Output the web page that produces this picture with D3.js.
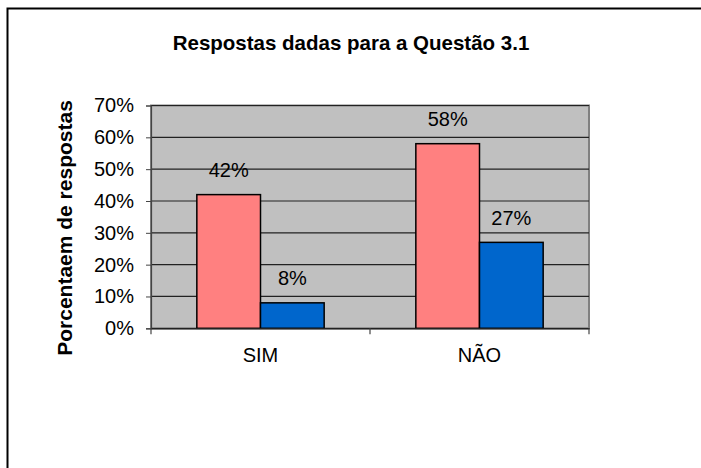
<!DOCTYPE html>
<html>
<head>
<meta charset="utf-8">
<script src="https://cdn.jsdelivr.net/npm/d3@7"></script>
<style>
  body { margin: 0; background: #fff; }
  svg { display: block; font-family: "Liberation Sans", Arial, sans-serif; }
</style>
</head>
<body>
<svg id="chart"></svg>
<script>
// chart data
const categories = ["SIM", "NÃO"];
const seriesNames = ["A", "B"];
const seriesA = [0.42, 0.58];
const seriesB = [0.08, 0.27];
const yTicks = [0, 0.1, 0.2, 0.3, 0.4, 0.5, 0.6, 0.7];

const width = 701, height = 468;
const margin = { top: 105.5, right: 112, bottom: 140, left: 151 };
const colors = ["#FF8080", "#0066CC"];
const fs = 20;

const svg = d3.select("#chart")
    .attr("width", width)
    .attr("height", height);

// outer chart border (right and bottom lie off the page)
svg.append("rect")
    .attr("x", 7.5).attr("y", 8.5)
    .attr("width", 720).attr("height", 500)
    .attr("fill", "#fff")
    .attr("stroke", "#000")
    .attr("stroke-width", 2);

const plotW = width - margin.left - margin.right;
const y0 = 328.3;

const x = d3.scaleBand()
    .domain(categories)
    .range([margin.left, margin.left + plotW])
    .padding(0);

const xs = d3.scaleBand()
    .domain(seriesNames)
    .range([0, x.bandwidth()])
    .paddingInner(0)
    .paddingOuter(0.72);

const y = d3.scaleLinear()
    .domain([0, 0.7])
    .range([y0, margin.top]);

// plot background
svg.append("rect")
    .attr("x", margin.left).attr("y", margin.top)
    .attr("width", plotW).attr("height", y0 - margin.top)
    .attr("fill", "#C0C0C0")
    .attr("stroke", "#808080")
    .attr("stroke-width", 2);

// gridlines
svg.append("g")
    .selectAll("line")
    .data(yTicks.slice(1))
    .join("line")
    .attr("x1", margin.left).attr("x2", margin.left + plotW)
    .attr("y1", d => y(d)).attr("y2", d => y(d))
    .attr("stroke", "#222")
    .attr("stroke-width", 1.2);

// bars
const data = categories.map((c, i) => ({ cat: c, values: [seriesA[i], seriesB[i]] }));

const groups = svg.append("g")
    .selectAll("g")
    .data(data)
    .join("g")
    .attr("transform", d => `translate(${x(d.cat)},0)`);

groups.selectAll("rect")
    .data(d => d.values.map((v, j) => ({ s: seriesNames[j], v: v, j: j })))
    .join("rect")
    .attr("x", d => xs(d.s))
    .attr("width", xs.bandwidth())
    .attr("y", d => y(d.v))
    .attr("height", d => y0 - y(d.v))
    .attr("fill", d => colors[d.j])
    .attr("stroke", "#000")
    .attr("stroke-width", 1.5);

groups.selectAll("text")
    .data(d => d.values.map((v, j) => ({ s: seriesNames[j], v: v })))
    .join("text")
    .attr("x", d => xs(d.s) + xs.bandwidth() / 2)
    .attr("y", d => y(d.v) - 17.5)
    .attr("text-anchor", "middle")
    .attr("font-size", fs)
    .attr("fill", "#000")
    .text(d => Math.round(d.v * 100) + "%");

// y axis
const yAxis = svg.append("g")
    .attr("transform", `translate(${margin.left},0)`)
    .call(d3.axisLeft(y).tickValues(yTicks).tickFormat(d3.format(".0%")).tickSize(5).tickPadding(12));
yAxis.select(".domain").attr("stroke", "#444").attr("stroke-width", 1.2);
yAxis.selectAll(".tick line").attr("stroke", "#444");
yAxis.selectAll("text").attr("font-size", fs).attr("font-family", "Liberation Sans, Arial, sans-serif").attr("fill", "#000");

// x axis
const xAxis = svg.append("g")
    .attr("transform", `translate(0,${y0})`)
    .call(d3.axisBottom(x).tickSize(0).tickPadding(20));
xAxis.select(".domain").attr("stroke", "#222").attr("stroke-width", 1.5);
xAxis.selectAll("text").attr("font-size", fs).attr("font-family", "Liberation Sans, Arial, sans-serif").attr("fill", "#000");

// category separators
svg.append("g")
    .selectAll("line")
    .data([margin.left, ...categories.map(c => x(c) + x.bandwidth())])
    .join("line")
    .attr("x1", d => d).attr("x2", d => d)
    .attr("y1", y0).attr("y2", y0 + 6)
    .attr("stroke", "#444")
    .attr("stroke-width", 1.2);

// title
svg.append("text")
    .attr("x", 351)
    .attr("y", 50)
    .attr("text-anchor", "middle")
    .attr("font-size", 20.5)
    .attr("font-weight", "bold")
    .text("Respostas dadas para a Questão 3.1");

// y axis title
svg.append("text")
    .attr("transform", "translate(72,228) rotate(-90)")
    .attr("text-anchor", "middle")
    .attr("font-size", 21)
    .attr("font-weight", "bold")
    .text("Porcentaem de respostas");
</script>
</body>
</html>
